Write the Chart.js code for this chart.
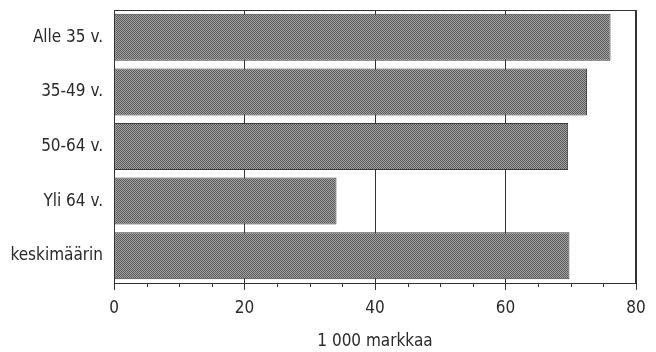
<!DOCTYPE html>
<html>
<head>
<meta charset="utf-8">
<script src="https://cdn.jsdelivr.net/npm/chart.js@4"></script>
<style>
  html, body { margin: 0; padding: 0; background: #fff; }
  #wrap { width: 656px; height: 352px; }
</style>
</head>
<body>
<div id="wrap"><canvas id="chart" width="656" height="352"></canvas></div>
<script>
// Data (1 000 markkaa)
const categories = ['Alle 35 v.', '35-49 v.', '50-64 v.', 'Yli 64 v.', 'keskimäärin'];
const values = [76.1, 72.5, 69.6, 34.1, 69.8];
const majorTicks = [0, 20, 40, 60, 80];
const minorStep = 5;
const axisTitle = '1 000 markkaa';

const FONT = '"Liberation Sans Narrow", "DejaVu Sans Condensed", sans-serif';

// Dotted grey fill like the printed raster
function makePattern() {
  const c = document.createElement('canvas');
  c.width = 2;
  c.height = 2;
  const g = c.getContext('2d');
  g.fillStyle = '#a2a2a2';
  g.fillRect(0, 0, 2, 2);
  g.fillStyle = '#5a5a5a';
  g.fillRect(0, 0, 1, 1);
  g.fillRect(1, 1, 1, 1);
  return g.createPattern(c, 'repeat');
}

// Short minor ticks + frame around the plot area
const frameAndTicks = {
  id: 'frameAndTicks',
  afterDraw(chart) {
    const { ctx, chartArea, scales } = chart;
    const x = scales.x;
    ctx.save();
    ctx.strokeStyle = '#333';
    ctx.lineWidth = 1;
    ctx.strokeRect(chartArea.left + 0.5, chartArea.top + 0.5,
      chartArea.right - chartArea.left - 1, chartArea.bottom - chartArea.top);
    ctx.beginPath();
    for (let v = 0; v <= x.max; v += minorStep) {
      if (majorTicks.includes(v)) continue;
      const px = Math.round(x.getPixelForValue(v)) + 0.5;
      ctx.moveTo(px, chartArea.bottom);
      ctx.lineTo(px, chartArea.bottom + 4);
    }
    ctx.stroke();
    ctx.restore();
  },
};

const ctx = document.getElementById('chart').getContext('2d');
new Chart(ctx, {
  type: 'bar',
  data: {
    labels: categories,
    datasets: [{
      data: values,
      backgroundColor: makePattern(),
      borderColor: '#3a3a3a',
      borderWidth: 1,
      borderSkipped: false,
      barPercentage: 0.86,
      categoryPercentage: 1,
    }],
  },
  options: {
    indexAxis: 'y',
    responsive: false,
    animation: false,
    events: [],
    layout: { padding: { top: 10, right: 20, bottom: 0, left: 0 } },
    plugins: { legend: { display: false }, tooltip: { enabled: false } },
    scales: {
      x: {
        min: 0,
        max: 80,
        afterBuildTicks: (scale) => {
          scale.ticks = majorTicks.map((v) => ({ value: v }));
        },
        afterFit: (scale) => {
          scale.height = 69;
          scale.paddingLeft = 0;
          scale.paddingRight = 0;
        },
        grid: {
          color: '#333',
          lineWidth: 1,
          tickLength: 7,
          drawOnChartArea: true,
        },
        border: { display: true, color: '#222', width: 1 },
        ticks: {
          color: '#2a2a2a',
          padding: 8,
          font: { family: FONT, size: 17 },
        },
        title: {
          display: true,
          text: axisTitle,
          color: '#2a2a2a',
          font: { family: FONT, size: 17 },
          padding: { top: 0, bottom: 0 },
        },
      },
      y: {
        afterFit: (scale) => {
          scale.width = 114;
          scale.paddingTop = 0;
          scale.paddingBottom = 0;
        },
        grid: { display: false },
        border: { display: true, color: '#333' },
        ticks: {
          color: '#2a2a2a',
          padding: 3,
          font: { family: FONT, size: 17 },
        },
      },
    },
  },
  plugins: [frameAndTicks],
});
</script>
</body>
</html>
